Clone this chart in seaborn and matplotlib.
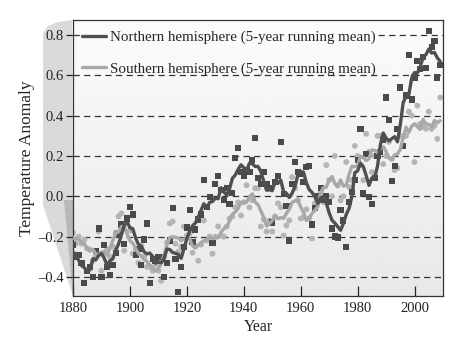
import numpy as np
import pandas as pd
import matplotlib
matplotlib.use("Agg")
import matplotlib.pyplot as plt
from matplotlib.patches import Polygon
import seaborn as sns

# annual anomalies, 1880-2009
years = list(range(1880, 2010))

north = [
    -0.24, -0.30, -0.29, -0.33, -0.43, -0.37, -0.35, -0.40, -0.27, -0.16,   # 1880s
    -0.40, -0.24, -0.35, -0.39, -0.34, -0.28, -0.19, -0.14, -0.235, -0.11,  # 1890s
    -0.055, -0.09, -0.29, -0.26, -0.34, -0.215, -0.135, -0.43, -0.31, -0.32,  # 1900s
    -0.30, -0.30, -0.40, -0.33, -0.22, -0.06, -0.31, -0.475, -0.35, -0.25,  # 1910s
    -0.155, -0.07, -0.225, -0.165, -0.115, -0.09, 0.08, -0.055, -0.005, -0.23,  # 1920s
    0.06, 0.10, 0.03, -0.02, 0.04, -0.04, 0.015, 0.19, 0.24, 0.12,          # 1930s
    0.10, 0.13, 0.12, 0.18, 0.29, 0.09, 0.06, 0.12, 0.06, 0.04,             # 1940s
    -0.13, 0.07, 0.10, 0.27, 0.01, -0.05, -0.22, 0.06, 0.17, 0.12,          # 1950s
    0.11, 0.07, 0.145, 0.15, -0.14, -0.06, 0.0, 0.04, -0.02, 0.0,           # 1960s
    -0.03, -0.16, -0.20, -0.205, -0.07, -0.12, -0.25, -0.03, 0.02, 0.08,    # 1970s
    0.18, 0.335, 0.015, 0.21, -0.005, -0.04, 0.09, 0.20, 0.22, 0.28,        # 1980s
    0.49, 0.38, 0.075, 0.15, 0.335, 0.54, 0.25, 0.50, 0.70, 0.48,           # 1990s
    0.59, 0.67, 0.63, 0.69, 0.635, 0.82, 0.74, 0.77, 0.59, 0.65,            # 2000s
]

south = [
    -0.18, -0.235, -0.20, -0.235, -0.215, -0.26, -0.265, -0.32, -0.30, -0.175,
    -0.37, -0.28, -0.265, -0.30, -0.25, -0.18, -0.10, -0.085, -0.27, -0.12,
    -0.17, -0.285, -0.26, -0.33, -0.245, -0.30, -0.35, -0.35, -0.37, -0.34,
    -0.37, -0.42, -0.30, -0.23, -0.135, -0.125, -0.235, -0.275, -0.25, -0.15,
    -0.195, -0.185, -0.28, -0.25, -0.32, -0.24, -0.12, -0.22, -0.20, -0.285,
    -0.20, -0.15, -0.195, -0.20, -0.15, -0.11, -0.10, -0.055, -0.03, -0.095,
    -0.03, 0.055, -0.055, -0.02, 0.04, 0.04, -0.15, -0.115, -0.175, -0.12,
    -0.175, -0.10, -0.035, -0.055, -0.195, -0.145, -0.12, 0.095, 0.04, -0.02,
    -0.11, -0.105, -0.065, -0.11, -0.21, -0.035, -0.01, 0.02, -0.03, 0.155,
    0.08, 0.0, 0.20, 0.055, -0.02, 0.0, 0.17, 0.046, 0.08, 0.25,
    0.20, 0.155, 0.08, 0.31, 0.22, 0.12, 0.20, 0.30, 0.30, 0.16,
    0.20, 0.27, 0.185, 0.13, 0.14, 0.30, 0.295, 0.30, 0.42, 0.40,
    0.17, 0.45, 0.36, 0.345, 0.335, 0.42, 0.335, 0.35, 0.285, 0.49,
]

x_ticks = [1880, 1900, 1920, 1940, 1960, 1980, 2000]
y_ticks = [-0.4, -0.2, 0.0, 0.2, 0.4, 0.6, 0.8]

df = pd.DataFrame({'year': years, 'north': north, 'south': south})
df['north_mean'] = df['north'].rolling(5, center=True, min_periods=3).mean()
df['south_mean'] = df['south'].rolling(5, center=True, min_periods=3).mean()

sns.set_style('ticks')
plt.rcParams['font.family'] = ['Liberation Serif', 'DejaVu Serif']

fig = plt.figure(figsize=(4.63, 3.52), dpi=100)
ax = fig.add_axes([73 / 463, 1 - 296 / 352, 370 / 463, 276 / 352])
ax.set_zorder(2)

# page curl decoration on the left, behind the axes
curl = Polygon([(72 / 463, 1 - 20 / 352), (58 / 463, 1 - 22 / 352), (48 / 463, 1 - 26 / 352),
                (43 / 463, 1 - 33 / 352), (43 / 463, 1 - 205 / 352), (73 / 463, 1 - 296 / 352)],
               closed=True, transform=fig.transFigure, facecolor='#dadada', edgecolor='none', zorder=-1)
fig.patches.append(curl)
shade = Polygon([(64 / 463, 1 - 200 / 352), (73 / 463, 1 - 200 / 352), (73 / 463, 1 - 296 / 352)],
                closed=True, transform=fig.transFigure, facecolor='#b8b8b8', edgecolor='none', zorder=-1)
fig.patches.append(shade)

# soft gradient background
grad = np.linspace(0.985, 0.91, 100)[:, None]
ax.imshow(grad, extent=[0, 1, 0, 1], transform=ax.transAxes, cmap='gray',
          vmin=0, vmax=1, aspect='auto', zorder=0)

grid_kw = dict(color='#333333', lw=0.9, ls=(0, (5, 3.5)), zorder=1)
for y in y_ticks[:-1]:
    ax.axhline(y, **grid_kw)

sns.scatterplot(data=df, x='year', y='south', marker='o', s=18, color='#b5b5b5',
                edgecolor='none', ax=ax, zorder=2)
sns.scatterplot(data=df, x='year', y='north', marker='s', s=20, color='#4a4a4a',
                edgecolor='none', ax=ax, zorder=3)
sns.lineplot(data=df, x='year', y='south_mean', color='#a8a8a8', lw=2.4, ax=ax,
             label='Southern hemisphere (5-year running mean)', zorder=4)
sns.lineplot(data=df, x='year', y='north_mean', color='#4f4f4f', lw=2.4, ax=ax,
             label='Northern hemisphere (5-year running mean)', zorder=5)

ax.set_xlim(1880, 2010)
ax.set_ylim(-0.495, 0.875)
ax.set_xticks(x_ticks)
ax.set_yticks(y_ticks)
ax.set_yticklabels([f'{v:.1f}'.replace('-', '\u2013') for v in y_ticks])
ax.tick_params(axis='x', direction='in', length=7, width=0.9, labelsize=10.5, pad=4, colors='#222222')
ax.tick_params(axis='y', direction='out', length=5, width=0.9, labelsize=10.5, pad=2, colors='#222222')
for s in ax.spines.values():
    s.set_color('#333333')
    s.set_linewidth(0.9)

ax.set_xlabel('Year', fontsize=11.5, labelpad=3)
ax.set_ylabel('Temperature Anomaly', fontsize=12.5, labelpad=2)

h, l = ax.get_legend_handles_labels()
leg = ax.legend(h[::-1], l[::-1], loc='upper left', bbox_to_anchor=(0.012, 0.978), fontsize=10.8,
                frameon=False, handlelength=1.6, handletextpad=0.25, labelspacing=1.2,
                borderpad=0.3, borderaxespad=0.0)
leg.set_zorder(6)

# top grid line is broken where the first legend row sits
fig.canvas.draw()
inv = ax.transAxes.inverted()
bb = leg.get_window_extent()
x0 = inv.transform((bb.x0, bb.y0))[0]
x1 = inv.transform((bb.x1, bb.y1))[0]
ax.axhline(y_ticks[-1], xmin=0, xmax=x0 + 0.01, **grid_kw)
ax.axhline(y_ticks[-1], xmin=x1 - 0.005, xmax=1, **grid_kw)

fig.savefig('out.png', dpi=100)
